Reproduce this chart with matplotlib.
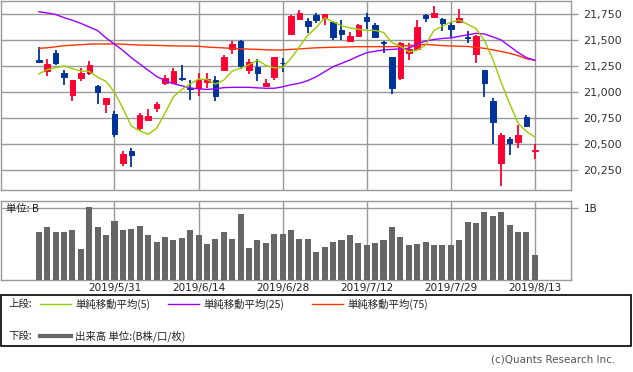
import matplotlib
matplotlib.use('Agg')
import matplotlib.pyplot as plt
from matplotlib.lines import Line2D
from matplotlib.patches import Rectangle
from matplotlib.ticker import FuncFormatter
import numpy as np

plt.rcParams['font.family'] = ['DejaVu Sans', 'Noto Sans CJK JP']

# trading days shown (2019)
dates = ['5/20', '5/21', '5/22', '5/23', '5/24', '5/27', '5/28', '5/29', '5/30', '5/31',
         '6/3', '6/4', '6/5', '6/6', '6/7', '6/10', '6/11', '6/12', '6/13', '6/14',
         '6/17', '6/18', '6/19', '6/20', '6/21', '6/24', '6/25', '6/26', '6/27', '6/28',
         '7/1', '7/2', '7/3', '7/4', '7/5', '7/8', '7/9', '7/10', '7/11', '7/12',
         '7/16', '7/17', '7/18', '7/19', '7/22', '7/23', '7/24', '7/25', '7/26', '7/29',
         '7/30', '7/31', '8/1', '8/2', '8/5', '8/6', '8/7', '8/8', '8/9', '8/13']
tick_dates = ['5/31', '6/14', '6/28', '7/12', '7/29', '8/13']

opens = [21308, 21205, 21378, 21183, 20971, 21138, 21186, 21058, 20882, 20788,
         20320, 20433, 20657, 20731, 20846, 21087, 21087, 21135, 21041, 21041,
         21093, 21115, 21209, 21413, 21493, 21215, 21240, 21058, 21144, 21280,
         21558, 21699, 21683, 21740, 21709, 21670, 21596, 21493, 21541, 21718,
         21644, 21478, 21340, 21135, 21378, 21413, 21737, 21718, 21702, 21644,
         21670, 21527, 21362, 21212, 20916, 20314, 20545, 20522, 20757, 20433]
highs = [21430, 21314, 21404, 21212, 21115, 21228, 21298, 21067, 20939, 20817,
         20433, 20462, 20795, 20837, 20907, 21163, 21231, 21260, 21115, 21183,
         21183, 21154, 21356, 21490, 21500, 21317, 21317, 21125, 21337, 21327,
         21740, 21788, 21714, 21756, 21747, 21686, 21692, 21580, 21654, 21762,
         21660, 21493, 21340, 21484, 21468, 21692, 21750, 21827, 21708, 21676,
         21795, 21590, 21548, 21212, 20939, 20603, 20564, 20683, 20779, 20500]
lows = [21276, 21154, 21260, 21067, 20916, 21106, 21164, 20882, 20801, 20570,
        20291, 20282, 20635, 20731, 20811, 21067, 21080, 21106, 20923, 20964,
        21038, 20916, 21202, 21368, 21218, 21173, 21106, 21051, 21115, 21192,
        21551, 21699, 21564, 21666, 21644, 21500, 21500, 21484, 21532, 21603,
        21516, 21378, 20981, 21115, 21308, 21404, 21676, 21718, 21590, 21516,
        21666, 21474, 21282, 20955, 20500, 20099, 20394, 20459, 20667, 20356]
closes = [21288, 21269, 21282, 21147, 21115, 21183, 21260, 20997, 20939, 20593,
          20404, 20397, 20779, 20769, 20885, 21135, 21205, 21125, 21026, 21115,
          21125, 20964, 21337, 21462, 21250, 21288, 21183, 21087, 21337, 21275,
          21734, 21756, 21637, 21695, 21747, 21532, 21555, 21538, 21644, 21683,
          21532, 21470, 21038, 21474, 21413, 21628, 21709, 21762, 21660, 21606,
          21708, 21520, 21538, 21084, 20714, 20587, 20507, 20587, 20673, 20440]

ma5 = [21174, 21215, 21234, 21251, 21225, 21201, 21199, 21143, 21101, 20998,
       20843, 20673, 20627, 20594, 20650, 20795, 20954, 21025, 21077, 21123,
       21121, 21075, 21115, 21201, 21230, 21262, 21306, 21257, 21232, 21235,
       21324, 21436, 21547, 21620, 21714, 21675, 21637, 21616, 21604, 21592,
       21592, 21573, 21476, 21440, 21386, 21403, 21451, 21593, 21632, 21672,
       21690, 21652, 21609, 21495, 21315, 21091, 20890, 20700, 20620, 20567]
ma25 = [21772, 21760, 21745, 21715, 21690, 21660, 21625, 21590, 21520, 21460,
        21400, 21330, 21270, 21210, 21150, 21110, 21080, 21060, 21040, 21030,
        21025, 21030, 21042, 21045, 21045, 21045, 21040, 21036, 21036, 21050,
        21070, 21084, 21110, 21147, 21195, 21243, 21275, 21308, 21345, 21378,
        21392, 21404, 21410, 21415, 21420, 21460, 21490, 21505, 21515, 21520,
        21535, 21550, 21564, 21558, 21530, 21500, 21440, 21380, 21330, 21305]
ma75 = [21420, 21425, 21435, 21445, 21450, 21455, 21460, 21462, 21462, 21462,
        21460, 21455, 21452, 21450, 21448, 21446, 21444, 21442, 21442, 21440,
        21432, 21428, 21424, 21420, 21416, 21412, 21410, 21406, 21404, 21404,
        21410, 21414, 21420, 21425, 21428, 21430, 21432, 21434, 21436, 21436,
        21436, 21436, 21436, 21440, 21446, 21452, 21458, 21452, 21446, 21443,
        21440, 21438, 21430, 21420, 21405, 21390, 21372, 21350, 21320, 21305]

# volume in billions of shares
volumes = [0.67, 0.73, 0.67, 0.67, 0.70, 0.43, 1.02, 0.73, 0.62, 0.82,
           0.70, 0.71, 0.75, 0.62, 0.53, 0.60, 0.55, 0.59, 0.69, 0.63,
           0.50, 0.57, 0.67, 0.57, 0.92, 0.45, 0.56, 0.52, 0.64, 0.64,
           0.70, 0.57, 0.57, 0.39, 0.46, 0.53, 0.56, 0.62, 0.52, 0.48,
           0.52, 0.56, 0.73, 0.60, 0.49, 0.50, 0.53, 0.49, 0.49, 0.49,
           0.56, 0.80, 0.79, 0.95, 0.89, 0.94, 0.77, 0.67, 0.66, 0.35]

price_ticks = [20250, 20500, 20750, 21000, 21250, 21500, 21750]

W, H = 633, 372
GRID = '#999999'
UP, DOWN = '#ff0033', '#003399'


def fx(px):
    return px / W


def fy(py):
    return 1 - py / H


fig = plt.figure(figsize=(W / 100, H / 100), dpi=100)
ax = fig.add_axes([fx(1), fy(190), 570 / W, 189 / H])
axv = fig.add_axes([fx(1), fy(280), 570 / W, 79 / H], sharex=ax)

x = np.arange(len(dates))
o, h, l, c = (np.array(v, dtype=float) for v in (opens, highs, lows, closes))
col = np.where(c >= o, UP, DOWN)

# candles
ax.vlines(x, l, h, colors=col, lw=1.3, zorder=3)
ax.bar(x, np.abs(c - o), bottom=np.minimum(o, c), width=0.66,
       color=col, edgecolor=col, lw=0.7, zorder=4)

# moving averages
ax.plot(x, ma75, color='#ff3300', lw=1.0, zorder=5)
ax.plot(x, ma25, color='#9900ff', lw=1.0, zorder=5)
ax.plot(x, ma5, color='#99cc00', lw=1.0, zorder=6)

tick_idx = [dates.index(d) for d in tick_dates]
tick_labels = ['2019/' + d for d in tick_dates]

ax.set_xlim(-4.5, 63.3)
ax.set_ylim(20058, 21875)
ax.set_yticks(price_ticks)
ax.yaxis.set_major_formatter(FuncFormatter(lambda v, p: f'{int(v):,}'))
ax.yaxis.tick_right()
ax.set_xticks(tick_idx)
ax.grid(True, color=GRID, lw=1, zorder=0)
ax.set_axisbelow(True)
ax.tick_params(axis='x', length=0, labelbottom=False)
ax.tick_params(axis='y', length=5, width=1, color=GRID, pad=4,
               labelsize=8, labelcolor='#333333')

# volume panel
axv.bar(x, volumes, width=0.72, color='#666666', zorder=3)
axv.set_ylim(0, 1.097)
axv.set_yticks([1.0])
axv.set_yticklabels(['1B'])
axv.yaxis.tick_right()
axv.set_xticks(tick_idx)
axv.set_xticklabels(tick_labels)
axv.grid(True, color=GRID, lw=1, zorder=0)
axv.set_axisbelow(True)
axv.tick_params(axis='x', length=0, pad=2, labelsize=7.5, labelcolor='#222222')
axv.tick_params(axis='y', length=5, width=1, color=GRID, pad=4,
                labelsize=7.5, labelcolor='#222222')
axv.text(5 / 570, 0.905, '単位: B', transform=axv.transAxes, ha='left', va='center',
         fontsize=7.5, color='#222222', family=['Noto Sans CJK JP', 'DejaVu Sans'], zorder=5)

for a in (ax, axv):
    for s in a.spines.values():
        s.set_color(GRID)
        s.set_linewidth(1)

# legend box
fig.add_artist(Rectangle((fx(0.5), fy(346)), 630 / W, 51 / H, transform=fig.transFigure,
                         fill=False, edgecolor='black', lw=1.2))
jp = ['Noto Sans CJK JP', 'DejaVu Sans']
fig.text(fx(8), fy(304), '上段:', fontsize=7.5, va='center', family=jp, color='#222222')
fig.text(fx(8), fy(336), '下段:', fontsize=7.5, va='center', family=jp, color='#222222')
legend_items = [(40, '#99cc00', '単純移動平均(5)'),
                (168, '#9900ff', '単純移動平均(25)'),
                (312, '#ff3300', '単純移動平均(75)')]
for lx, lc, lt in legend_items:
    fig.add_artist(Line2D([fx(lx), fx(lx + 31)], [fy(304), fy(304)],
                          transform=fig.transFigure, color=lc, lw=1))
    fig.text(fx(lx + 35), fy(304), lt, fontsize=7.5, va='center', family=jp, color='#222222')
fig.add_artist(Line2D([fx(40), fx(71)], [fy(336), fy(336)],
                      transform=fig.transFigure, color='#666666', lw=3))
fig.text(fx(75), fy(336), '出来高 単位:(B株/口/枚)', fontsize=7.5, va='center',
         family=jp, color='#222222')

fig.text(fx(615), fy(359), '(c)Quants Research Inc.', fontsize=7.5, ha='right',
         va='center', color='#555555')

fig.savefig('out.png', dpi=100)
